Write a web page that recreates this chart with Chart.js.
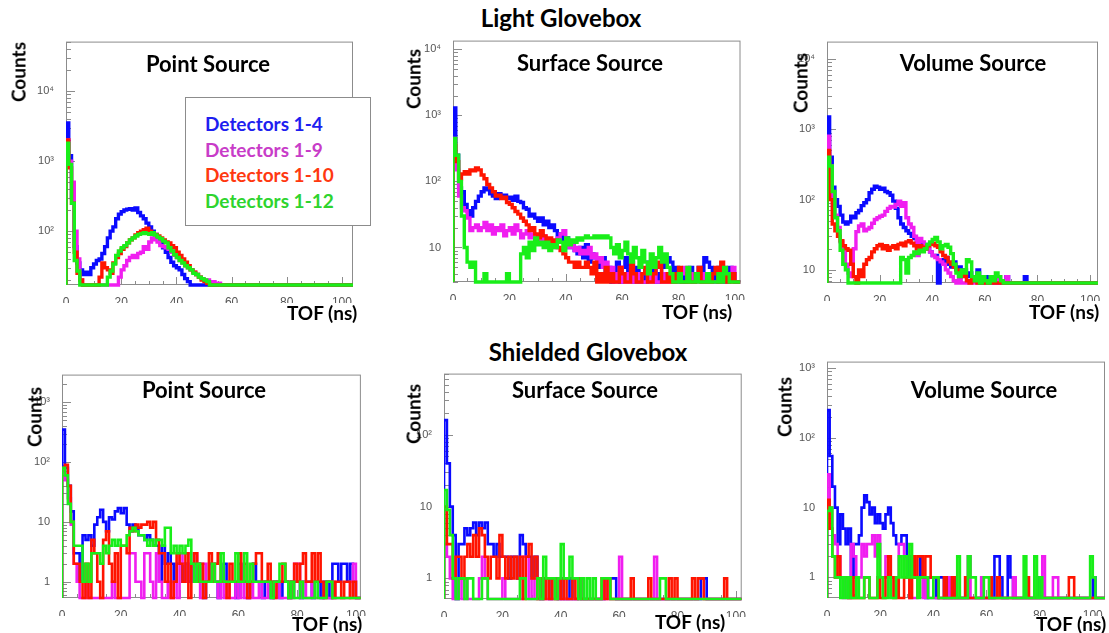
<!DOCTYPE html>
<html>
<head>
<meta charset="utf-8">
<script src="https://cdn.jsdelivr.net/npm/chart.js@4.4.0/dist/chart.umd.min.js"></script>
<style>
  body { margin: 0; background: #fff; width: 1109px; height: 633px; position: relative; overflow: hidden; }
  .lbl { position: absolute; font-family: Lato, 'Open Sans', sans-serif; font-weight: 700; white-space: nowrap; line-height: 1; color: #000; }
  .panel { position: absolute; }
  #legend { position: absolute; left: 185px; top: 97px; width: 186px; height: 129px; border: 1px solid #8c8c8c; background: #fff; box-sizing: border-box; }
  #legend div { position: absolute; left: 19px; font-family: Lato, 'Open Sans', sans-serif; font-weight: 700; font-size: 19px; line-height: 1; white-space: nowrap; }
</style>
</head>
<body>
<script>
// ===== Data =====
const detectorSets = ['Detectors 1-4', 'Detectors 1-9', 'Detectors 1-10', 'Detectors 1-12'];
const xTickLabels = [0, 20, 40, 60, 80, 100];
const yDecadeLabels = ['1', '10', '10²', '10³', '10⁴']; // index = power of ten
const binWidth = 1; // ns, counts below start at TOF = 0

// Light glovebox - point source
const lightPoint_d4 = [3500,1200,300,60,35,28,24,26,24,30, 34,38,40,48,60,80,100,115,150,175,
  190,200,205,210,200,215,185,165,150,130, 115,100,90,80,68,58,50,42,36,32, 30,28,24,21,19];
const lightPoint_d9 = [2000,1000,500,100,40,20,0,0,0,0, 0,0,0,0,0,0,0,0,0,22,
  28,32,38,42,45,42,48,50,60,55, 70,80,75,70,62,60,58,55,50,45, 42,38,35,32,30,28,26,24,22,21, 20,20,19,19,18,18];
const lightPoint_d10 = [2000,800,250,50,25,20,0,0,0,0, 0,0,22,35,30,28,25,35,42,48,
  55,60,68,75,80,88,95,100,105,110, 100,95,90,85,80,75,70,68,62,58, 50,45,40,36,32,28,26,24,22,20, 19,18];
const lightPoint_d12 = [1800,900,250,38,27,0,0,0,0,0, 0,0,0,0,0,22,27,34,45,52,
  58,62,68,75,80,85,90,92,95,92, 90,95,88,82,78,72,68,58,52,46, 42,38,35,32,30,28,25,24,22,21, 20,19];

// Light glovebox - surface source
const lightSurface_d4 = [1300,250,80,70,45,36,30,40,50,60, 70,80,75,65,60,55,65,60,62,55,
  58,52,60,50,48,40,38,30,32,28, 25,28,22,25,20,22,18,14,16,12, 14,10,12,9,8,10,7,11,6,8,
  7,6,5,7,4,5,0,4,6,3, 5,7,4,6,0,5,3,4,0,6, 4,5,3,4,6,5,7,6,4,5, 3,4,0,4,5,3,4,5,4,7, 6,5,4,3,5,4,0,3,5,4];
const lightSurface_d9 = [450,150,60,40,36,28,18,20,22,18, 20,24,18,22,16,20,18,22,15,18,
  20,16,22,18,14,16,18,14,16,12, 14,12,15,11,13,12,10,14,16,18, 12,10,11,9,10,8,9,8,10,7,
  8,6,7,5,6,4,5,0,4,5, 0,4,0,5,3,0,4,0,3,5, 0,4,3,0,4,0,3,4,0,3, 0,4,5,3,0,4,0,3,4,0, 3,4,0,3,0,4,5,3,4,5];
const lightSurface_d10 = [350,200,110,130,140,130,150,145,160,150, 125,110,90,80,70,60,62,55,58,48,
  45,40,35,32,28,25,22,18,20,16, 14,18,15,13,14,12,13,10,9,8, 7,6,6,5,6,5,5,6,5,4,
  6,0,4,3,5,0,4,3,0,5, 4,0,3,6,4,0,3,4,5,3, 0,4,5,6,3,0,4,3,0,4, 5,0,3,4,0,3,4,5,0,3, 4,0,4,5,3,6,4,0,3,4];
const lightSurface_d12 = [450,250,100,30,10,6,5,6,0,0, 0,4,0,0,0,0,0,0,0,4,
  0,0,0,0,8,10,7,12,9,14, 11,12,10,12,9,11,10,13,12,9, 14,11,13,12,14,13,14,15,14,14,
  15,14,15,14,15,14,10,8,11,7, 9,12,8,6,10,7,5,9,6,4, 8,5,7,10,6,8,5,4,3,0, 4,3,0,5,0,3,4,0,3,0, 4,0,3,0,4,0,5,4,3];

// Light glovebox - volume source
const lightVolume_d4 = [1500,400,150,100,80,60,48,45,48,58, 55,65,70,82,90,100,125,140,155,150,
  140,145,130,125,115,95,75,55,45,40, 36,33,30,28,25,24,22,23,20,18, 16,16,0,14,13,15,12,11,13,10,
  11,9,10,8,9,8,7,10,0,8, 0,8,0,0,0,0,0,0,8,0, 0,0,0,0,0,8];
const lightVolume_d9 = [800,300,100,60,40,25,18,12,9,8, 20,35,42,45,36,38,40,46,52,55,
  58,60,68,75,80,78,85,95,80,90, 55,45,40,30,16,28,25,22,20,18, 16,15,14,13,12,10,9,8,7,0,
  8,0,0,0,0,0,0,0,0,0, 7,0,0,0,0,8,7,0,8];
const lightVolume_d10 = [500,100,45,36,30,26,22,20,19,12, 8,0,10,8,12,14,15,18,20,22,
  23,20,22,19,21,22,20,23,24,22, 25,26,24,22,20,22,21,20,22,23, 24,22,21,18,16,15,13,12,11,10,
  9,8,9,7,0,8,7,0,8];
const lightVolume_d12 = [400,300,130,55,36,19,12,10,0,0, 0,0,0,0,0,0,0,0,0,0,
  0,0,0,0,0,0,0,0,15,14, 9,15,16,18,17,19,18,20,23,25, 27,29,25,20,22,23,21,17,12,9,
  8,10,9,14,13,8,7,9,0,8, 7,0,8,7,9,8,7];

// Shielded glovebox - point source
const shieldedPoint_d4 = [350,80,40,15,3,3,1,6,5,6, 4,9,12,16,10,7,12,11,15,17,
  14,17,9,7,9,8,6,6,5,6, 5,4,4,1,4,2,3,2,1,2, 2,1,2,1,2,1,2,1,0,1,
  2,1,1,0,1,2,1,1,1,0, 2,1,1,0,1,2,1,1,0,1, 1,0,1,1,0,1,1,0,1,1, 1,0,1,1,1,0,1,1,0,1, 1,0,2,2,1,2,2,1,2,1];
const shieldedPoint_d9 = [70,50,25,9,2,1,0,0,1,0, 0,0,0,0,0,0,0,1,0,0,
  0,0,0,3,3,1,1,0,3,3, 1,0,3,1,0,0,1,0,1,0, 3,2,1,3,2,3,1,0,2,1,
  1,2,1,0,1,0,1,0,0,1, 0,1,0,0,1,0,0,1,0,0, 1,0,0,1,0,0,0,1,0,2, 2,0,1,0,0,1,0,0,0,0, 0,0,1,0,0,0,0,0,1,2];
const shieldedPoint_d10 = [80,90,40,10,2,2,1,0,2,0, 5,3,1,0,5,7,2,1,3,0,
  4,4,3,8,7,9,8,9,9,10, 8,10,5,3,3,1,2,0,1,3, 2,1,3,0,2,3,1,2,0,1,
  3,1,2,3,1,1,0,2,1,1, 3,1,2,0,1,2,3,3,1,1, 2,1,0,1,1,2,1,0,1,2, 1,2,3,1,1,3,1,3,1,0, 1,1,0,1,1,0,1,1,0,1];
const shieldedPoint_d12 = [80,60,20,10,4,4,4,1,2,1, 3,3,3,2,4,3,4,5,4,5,
  4,4,6,7,8,7,6,6,5,4, 5,4,5,5,4,8,8,3,4,3, 4,3,4,5,2,1,2,1,1,1,
  1,2,1,1,3,1,1,1,1,3, 1,1,3,1,2,1,1,1,1,1, 1,0,1,1,2,2,1,0,1,0, 0,1,0,0,0,0,1,0,0,0, 1,1];

// Shielded glovebox - surface source
const shieldedSurface_d4 = [160,40,10,4,0,3,3,5,4,5, 6,4,6,5,6,3,3,2,3,2,
  2,2,1,2,2,1,4,3,2,2, 1,2,1,0,1,1,0,1,1,0, 1,0,0,1,0,0,1,0,0,0,
  0,0,0,0,0,1,1,1,1,0, 0,0,0,0,0,0,0,0,0,0, 0,0,0,0,0,0,0,0,0,0, 0,0,0,0,0,0,0,0,1,1];
const shieldedSurface_d9 = [3,2,1,0,0,1,0,1,0,0, 0,0,1,2,1,0,0,0,0,0,
  1,0,0,0,0,0,0,2,2,0, 1,0,0,0,0,0,0,0,0,1, 0,0,0,0,0,0,0,0,0,0,
  0,0,0,0,0,1,0,0,0,0, 2,0,0,0,0,0,0,0,0,0, 0,0,2];
const shieldedSurface_d10 = [10,3,3,1,2,2,1,2,3,2, 4,2,5,4,2,1,2,2,1,4,
  2,1,2,1,2,1,2,0,2,3, 1,2,0,1,0,1,0,1,0,1, 0,1,0,0,1,0,1,0,0,0,
  0,0,0,0,1,0,1,0,0,0, 0,0,0,0,1,0,0,0,0,0, 1,0,0,0,0,0,0,1,0,1, 0,0,0,0,0,1,0,1,1,0, 0,0,0,0,0,0,1];
const shieldedSurface_d12 = [17,9,4,1,0,1,1,0,1,1, 0,0,0,1,1,0,0,0,0,0,
  0,0,0,0,0,0,1,1,0,0, 0,0,1,0,2,1,1,1,0,1, 3,1,1,2,1,1,0,1,0,1,
  0,1,0,0,1,1,1,0,0,0, 0,0,0,0,0,0,0,0,0,0, 0,0,0,0,1,1];

// Shielded glovebox - volume source
const shieldedVolume_d4 = [250,55,20,10,3,8,5,3,5,1, 3,3,4,10,15,12,8,10,6,8,
  6,5,8,10,6,4,3,3,4,4, 2,1,2,1,1,2,1,0,1,1, 1,0,1,1,0,1,0,1,0,0,
  0,0,1,0,0,0,0,0,0,0, 0,0,0,2,2,1,0,0,2,1, 0,0,0,0,0,0,0,0,0,1, 0,0,0,0,0,0,0,0,0,0, 0,0,0,0,0,0,0,0,0,0, 1];
const shieldedVolume_d9 = [30,10,4,3,2,1,0,1,0,3, 2,1,1,3,2,3,3,4,2,4,
  1,1,2,2,1,1,1,3,3,2, 1,0,0,0,1,1,0,1,0,0, 0,0,0,0,0,0,1,0,0,0,
  0,0,0,2,0,0,0,0,1,0, 0,0,0,0,0,0,0,0,0,0, 1,0,0,0,0,0,0,0,0,0, 0,2,0,0,0,1,1];
const shieldedVolume_d10 = [13,5,2,1,2,1,1,1,0,1, 0,0,0,0,1,1,0,0,0,1,
  0,0,1,2,1,0,1,0,0,1, 1,0,2,1,2,2,1,2,2,1, 1,1,0,0,1,0,0,1,0,0,
  0,0,1,0,0,0,0,0,0,0, 0,1,0,0,1,0,0,0,0,0, 0,0,0,0,0,1,0,0,0,0, 0,0,0,0,0,0,0,0,0,0, 0,1,1];
const shieldedVolume_d12 = [9,10,2,1,1,0,1,0,1,0, 0,1,0,0,1,1,0,0,0,3,
  1,0,0,1,0,0,1,2,1,2, 1,3,1,1,0,1,1,1,0,0, 1,1,0,0,0,0,0,0,0,2,
  0,0,0,2,1,1,0,0,0,1, 1,0,0,0,0,0,0,0,0,0, 0,0,0,0,2,0,0,0,2,0, 1,0,0,0,0,0,0,0,0,0, 0,0,0,0,0,0,0,0,0,2, 1];

// ===== Styles & layout =====
const lineColors = ['#0a0aff', '#f01ef0', '#ff1400', '#19ee19'];
const legendColors = ['#1e1ef0', '#c83cc8', '#ff3810', '#2ed42e'];

const panels = [
  { title: 'Point Source', series: [lightPoint_d4, lightPoint_d9, lightPoint_d10, lightPoint_d12],
    frame: [66, 37, 353, 285], yMin: 17, yMax: 51000, xMax: 104, lw: 3.4,
    titleAt: [208, 64], countsAt: [18, 72], tofAt: [322, 312] },
  { title: 'Surface Source', series: [lightSurface_d4, lightSurface_d9, lightSurface_d10, lightSurface_d12],
    frame: [453, 36, 741, 282], yMin: 3.0, yMax: 13600, xMax: 102, lw: 3.4,
    titleAt: [590, 63], countsAt: [413, 79], tofAt: [697, 311] },
  { title: 'Volume Source', series: [lightVolume_d4, lightVolume_d9, lightVolume_d10, lightVolume_d12],
    frame: [827, 37, 1098, 283], yMin: 6.5, yMax: 17700, xMax: 103, lw: 3.4,
    titleAt: [973, 63], countsAt: [800, 83], tofAt: [1064, 311] },
  { title: 'Point Source', series: [shieldedPoint_d4, shieldedPoint_d9, shieldedPoint_d10, shieldedPoint_d12],
    frame: [62, 370, 362, 598], yMin: 0.534, yMax: 2910, xMax: 101.7, lw: 2.6,
    titleAt: [204, 390], countsAt: [34, 417], tofAt: [327, 623] },
  { title: 'Surface Source', series: [shieldedSurface_d4, shieldedSurface_d9, shieldedSurface_d10, shieldedSurface_d12],
    frame: [444, 369, 742, 599], yMin: 0.517, yMax: 710, xMax: 102, lw: 2.6,
    titleAt: [585, 390], countsAt: [413, 414], tofAt: [690, 621] },
  { title: 'Volume Source', series: [shieldedVolume_d4, shieldedVolume_d9, shieldedVolume_d10, shieldedVolume_d12],
    frame: [827, 357, 1105, 598], yMin: 0.507, yMax: 1240, xMax: 104.6, lw: 2.6,
    titleAt: [984, 390], countsAt: [784, 407], tofAt: [1071, 623] },
];

const PAD_L = 44, PAD_T = 6, PAD_R = 6, PAD_B = 18;

// ===== Helpers =====
function addText(txt, cx, cy, size, rotate) {
  const el = document.createElement('div');
  el.className = 'lbl';
  el.textContent = txt;
  el.style.left = cx + 'px';
  el.style.top = cy + 'px';
  el.style.fontSize = size + 'px';
  el.style.transform = 'translate(-50%,-50%)' + (rotate ? ' rotate(-90deg)' : '');
  document.body.appendChild(el);
}

function histPoints(counts, floor, xMax) {
  const pts = [{ x: 0, y: floor }];
  counts.forEach((c, i) => pts.push({ x: i * binWidth, y: c > 0 ? c : floor }));
  const end = counts.length * binWidth;
  const last = counts[counts.length - 1];
  pts.push({ x: end, y: last > 0 ? last : floor });
  pts.push({ x: end, y: floor });
  pts.push({ x: xMax, y: floor });
  return pts;
}

function isDecade(v) {
  const e = Math.log10(v);
  return Math.abs(e - Math.round(e)) < 1e-6;
}

// ROOT-like frame with ticks inside
const rootFrame = {
  id: 'rootFrame',
  beforeDatasetsDraw(chart) {
    const { ctx, chartArea: a } = chart;
    ctx.save();
    ctx.strokeStyle = '#8c8c8c';
    ctx.lineWidth = 1;
    ctx.strokeRect(a.left + 0.5, a.top + 0.5, a.right - a.left - 1, a.bottom - a.top - 1);
    ctx.beginPath();
    chart.scales.y.ticks.forEach((t) => {
      const py = Math.round(chart.scales.y.getPixelForValue(t.value)) + 0.5;
      ctx.moveTo(a.left, py);
      ctx.lineTo(a.left + (isDecade(t.value) ? 9 : 5), py);
    });
    chart.scales.x.ticks.forEach((t) => {
      const px = Math.round(chart.scales.x.getPixelForValue(t.value)) + 0.5;
      ctx.moveTo(px, a.bottom);
      ctx.lineTo(px, a.bottom - (t.value % 20 === 0 ? 8 : 4));
    });
    ctx.stroke();
    ctx.restore();
  },
};

// ===== Build page =====
addText('Light Glovebox', 561, 18, 24);
addText('Shielded Glovebox', 588, 352, 24);

panels.forEach((p) => {
  const [l, t, r, b] = p.frame;
  const box = document.createElement('div');
  box.className = 'panel';
  box.style.left = (l - PAD_L) + 'px';
  box.style.top = (t - PAD_T) + 'px';
  box.style.width = (r - l + PAD_L + PAD_R) + 'px';
  box.style.height = (b - t + PAD_T + PAD_B) + 'px';
  const canvas = document.createElement('canvas');
  box.appendChild(canvas);
  document.body.appendChild(box);

  const datasets = p.series.map((counts, i) => ({
    label: detectorSets[i],
    data: histPoints(counts, p.yMin, p.xMax),
    borderColor: lineColors[i],
    borderWidth: p.lw,
    pointRadius: 0,
    fill: false,
    stepped: true,
    tension: 0,
    order: 3 - i,
    clip: { left: 0, top: 0, right: 0, bottom: 2 },
  }));

  new Chart(canvas, {
    type: 'line',
    data: { datasets },
    options: {
      responsive: true,
      maintainAspectRatio: false,
      animation: false,
      events: [],
      layout: { padding: { top: PAD_T, right: PAD_R, left: 0, bottom: 0 } },
      plugins: { legend: { display: false }, tooltip: { enabled: false } },
      scales: {
        x: {
          type: 'linear',
          min: 0,
          max: p.xMax,
          grid: { display: false },
          border: { display: false },
          afterBuildTicks: (ax) => {
            const ticks = [];
            for (let v = 0; v <= ax.max + 1e-9; v += 5) ticks.push({ value: v });
            ax.ticks = ticks;
          },
          afterFit: (ax) => { ax.height = PAD_B; },
          ticks: {
            autoSkip: false,
            maxRotation: 0,
            padding: 2,
            color: '#555',
            font: { family: 'Liberation Sans', size: 12 },
            callback: (v) => (xTickLabels.includes(v) ? String(v) : ''),
          },
        },
        y: {
          type: 'logarithmic',
          min: p.yMin,
          max: p.yMax,
          grid: { display: false },
          border: { display: false },
          afterBuildTicks: (ax) => {
            const ticks = [];
            const e0 = Math.floor(Math.log10(ax.min));
            const e1 = Math.ceil(Math.log10(ax.max));
            for (let e = e0; e <= e1; e++) {
              for (let m = 1; m < 10; m++) {
                const v = m * Math.pow(10, e);
                if (v >= ax.min && v <= ax.max) ticks.push({ value: v });
              }
            }
            ax.ticks = ticks;
          },
          afterFit: (ax) => { ax.width = PAD_L; },
          ticks: {
            autoSkip: false,
            padding: 4,
            color: '#555',
            font: { family: 'Liberation Sans', size: 11 },
            callback: (v) => (isDecade(v) && Math.round(Math.log10(v)) >= 0 ? yDecadeLabels[Math.round(Math.log10(v))] : ''),
          },
        },
      },
    },
    plugins: [rootFrame],
  });

  addText(p.title, p.titleAt[0], p.titleAt[1], 22);
  addText('Counts', p.countsAt[0], p.countsAt[1], 19, true);
  addText('TOF (ns)', p.tofAt[0], p.tofAt[1], 19);
});

// legend (first panel)
const legend = document.createElement('div');
legend.id = 'legend';
detectorSets.forEach((name, i) => {
  const row = document.createElement('div');
  row.textContent = name;
  row.style.color = legendColors[i];
  row.style.top = (16 + i * 25.5) + 'px';
  legend.appendChild(row);
});
document.body.appendChild(legend);
</script>
</body>
</html>
